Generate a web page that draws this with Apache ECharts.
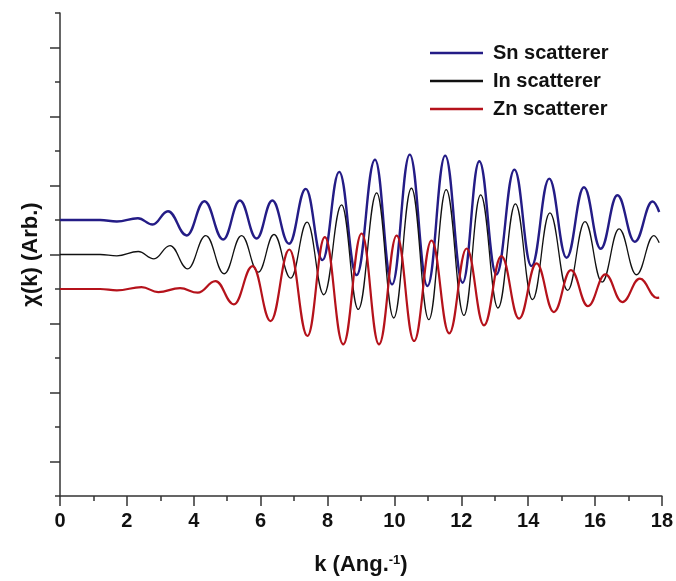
<!DOCTYPE html>
<html>
<head>
<meta charset="utf-8">
<script src="https://cdn.jsdelivr.net/npm/echarts@6/dist/echarts.min.js"></script>
<style>
html,body{margin:0;padding:0;background:#fff;}
#chart{width:676px;height:581px;}
</style>
</head>
<body>
<div id="chart"></div>
<script>
// k values (Ang^-1) at curve extrema, and chi(k) values (offset, arbitrary units)
var snK = [0, 1.2, 1.7, 2.33, 2.77, 3.23, 3.79, 4.32, 4.88, 5.38, 5.88, 6.35, 6.85, 7.35, 7.85, 8.35, 8.87, 9.42, 9.93, 10.46, 10.99, 11.52, 12.04, 12.54, 13.05, 13.59, 14.10, 14.63, 15.15, 15.67, 16.17, 16.67, 17.19, 17.72, 17.92];
var snY = [8.0, 8.0, 7.957, 8.052, 7.870, 8.255, 7.552, 8.544, 7.436, 8.564, 7.465, 8.564, 7.312, 8.903, 6.837, 9.394, 6.403, 9.750, 6.134, 9.895, 6.085, 9.866, 6.183, 9.701, 6.423, 9.461, 6.664, 9.200, 6.907, 8.949, 7.167, 8.717, 7.369, 8.535, 8.231];

var inK = [0, 1.2, 1.7, 2.34, 2.81, 3.29, 3.82, 4.36, 4.91, 5.43, 5.93, 6.40, 6.90, 7.39, 7.89, 8.42, 8.92, 9.47, 9.98, 10.51, 11.03, 11.55, 12.08, 12.58, 13.10, 13.62, 14.13, 14.65, 15.18, 15.70, 16.21, 16.72, 17.24, 17.76, 17.92];
var inY = [7.0, 7.0, 6.962, 7.087, 6.876, 7.260, 6.586, 7.550, 6.442, 7.550, 6.491, 7.579, 6.317, 7.937, 5.834, 8.438, 5.409, 8.785, 5.160, 8.921, 5.111, 8.880, 5.235, 8.727, 5.450, 8.467, 5.690, 8.206, 5.959, 7.955, 6.202, 7.743, 6.413, 7.550, 7.338];

var znK = [0, 1.2, 1.7, 2.44, 2.94, 3.59, 4.12, 4.65, 5.20, 5.76, 6.30, 6.86, 7.40, 7.92, 8.47, 9.02, 9.54, 10.07, 10.59, 11.11, 11.64, 12.16, 12.68, 13.20, 13.73, 14.25, 14.77, 15.28, 15.79, 16.31, 16.82, 17.34, 17.85, 17.92];
var znY = [6.0, 6.0, 5.960, 6.055, 5.910, 6.026, 5.893, 6.229, 5.555, 6.662, 5.071, 7.145, 4.638, 7.501, 4.397, 7.608, 4.397, 7.550, 4.493, 7.406, 4.716, 7.174, 4.947, 6.952, 5.141, 6.741, 5.332, 6.547, 5.505, 6.422, 5.621, 6.298, 5.743, 5.748];

var seriesNames = ['Sn scatterer', 'In scatterer', 'Zn scatterer'];
var xTickValues = [0, 2, 4, 6, 8, 10, 12, 14, 16, 18];
var yMajorTicks = [1, 3, 5, 7, 9, 11, 13];

function pairs(ks, ys) {
  return ks.map(function (k, i) { return [k, ys[i]]; });
}

var FONT = '"Liberation Sans", Arial, sans-serif';
var chart = echarts.init(document.getElementById('chart'), null, {renderer: 'canvas'});

var lineCommon = {
  type: 'line',
  showSymbol: false,
  symbol: 'none',
  smooth: 0.42,
  smoothMonotone: 'x',
  animation: false,
  z: 3
};

chart.setOption({
  backgroundColor: '#ffffff',
  animation: false,
  grid: {left: 60, right: 14, top: 13, bottom: 84, containLabel: false},
  legend: {
    orient: 'vertical',
    left: 430,
    top: 43,
    padding: 0,
    icon: 'rect',
    itemWidth: 53,
    itemHeight: 2.4,
    itemGap: 8,
    data: seriesNames,
    textStyle: {fontFamily: FONT, fontWeight: 'bold', fontSize: 20, color: '#111', padding: [0, 0, 0, 5]}
  },
  xAxis: {
    type: 'value',
    min: 0, max: 18, interval: 2,
    name: 'k (Ang.{sup|-1})',
    nameLocation: 'middle',
    nameGap: 58,
    nameTextStyle: {
      fontFamily: FONT, fontWeight: 'bold', fontSize: 22, color: '#111',
      rich: {sup: {fontFamily: FONT, fontWeight: 'bold', fontSize: 13, color: '#111', verticalAlign: 'top', padding: [0, 0, 9, 0]}}
    },
    axisLine: {show: true, onZero: false, lineStyle: {color: '#333', width: 1.5}},
    axisTick: {show: true, length: 10, lineStyle: {color: '#333', width: 1.5}},
    minorTick: {show: true, splitNumber: 2, length: 5, lineStyle: {color: '#333', width: 1.5}},
    splitLine: {show: false},
    axisLabel: {
      margin: 15,
      fontFamily: FONT, fontWeight: 'bold', fontSize: 20, color: '#111',
      formatter: function (v) { return xTickValues.indexOf(v) >= 0 ? String(v) : ''; }
    }
  },
  yAxis: [{
    type: 'value',
    min: 0, max: 14, interval: 2,
    name: 'χ(k) (Arb.)',
    nameLocation: 'middle',
    nameGap: 18,
    nameTextStyle: {fontFamily: FONT, fontWeight: 'bold', fontSize: 22, color: '#111'},
    axisLine: {show: true, onZero: false, lineStyle: {color: '#333', width: 1.5}},
    axisTick: {show: true, length: 5, lineStyle: {color: '#333', width: 1.5}},
    axisLabel: {show: false},
    splitLine: {show: false}
  }, {
    type: 'value',
    min: 0, max: 14,
    position: 'left',
    axisLine: {show: false},
    axisTick: {show: true, length: 10, customValues: yMajorTicks, lineStyle: {color: '#333', width: 1.5}},
    axisLabel: {show: false, customValues: yMajorTicks},
    splitLine: {show: false}
  }],
  series: [
    Object.assign({}, lineCommon, {name: seriesNames[0], data: pairs(snK, snY), lineStyle: {color: '#241c86', width: 2.4}, itemStyle: {color: '#241c86'}}),
    Object.assign({}, lineCommon, {name: seriesNames[1], data: pairs(inK, inY), lineStyle: {color: '#111111', width: 1.3}, itemStyle: {color: '#111111'}}),
    Object.assign({}, lineCommon, {name: seriesNames[2], data: pairs(znK, znY), lineStyle: {color: '#b5121b', width: 2.2}, itemStyle: {color: '#b5121b'}})
  ]
});
</script>
</body>
</html>
